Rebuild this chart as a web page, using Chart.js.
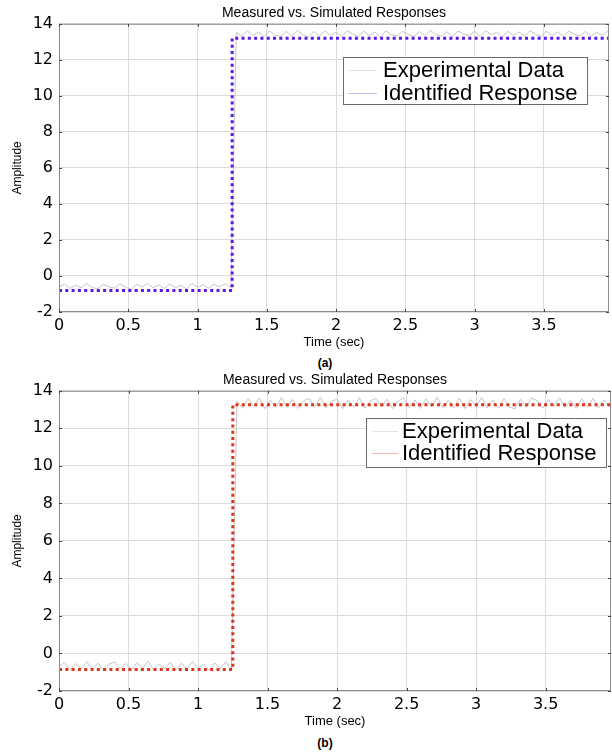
<!DOCTYPE html>
<html>
<head>
<meta charset="utf-8">
<script src="https://cdn.jsdelivr.net/npm/chart.js@4.4.0/dist/chart.umd.min.js"></script>
<style>
  body { margin: 0; background: #fff; width: 612px; height: 753px; position: relative; overflow: hidden; }
  .box { position: absolute; left: 0; width: 612px; }
  .cap { position: absolute; width: 40px; left: 305px; text-align: center; font: bold 12px "Liberation Sans", Arial, sans-serif; color: #000; }
</style>
</head>
<body>
<div class="box" style="top:0;height:350px"><canvas id="chartA"></canvas></div>
<div class="cap" style="top:356px">(a)</div>
<div class="box" style="top:367px;height:362px"><canvas id="chartB"></canvas></div>
<div class="cap" style="top:736px">(b)</div>

<script>
// axes
const xTicks = [0, 0.5, 1, 1.5, 2, 2.5, 3, 3.5];
const yTicks = [-2, 0, 2, 4, 6, 8, 10, 12, 14];

// mesures (temps en s)
const timeExp = [0, 0.04, 0.08, 0.12, 0.16, 0.2, 0.24, 0.28, 0.32, 0.36, 0.4, 0.44, 0.48, 0.52, 0.56, 0.6,
  0.64, 0.68, 0.72, 0.76, 0.8, 0.84, 0.88, 0.92, 0.96, 1, 1.04, 1.08, 1.12, 1.16, 1.2, 1.24,
  1.28, 1.32, 1.36, 1.4, 1.44, 1.48, 1.52, 1.56, 1.6, 1.64, 1.68, 1.72, 1.76, 1.8, 1.84, 1.88, 1.92, 1.96,
  2, 2.04, 2.08, 2.12, 2.16, 2.2, 2.24, 2.28, 2.32, 2.36, 2.4, 2.44, 2.48, 2.52, 2.56, 2.6, 2.64, 2.68,
  2.72, 2.76, 2.8, 2.84, 2.88, 2.92, 2.96, 3, 3.04, 3.08, 3.12, 3.16, 3.2, 3.24, 3.28, 3.32, 3.36, 3.4,
  3.44, 3.48, 3.52, 3.56, 3.6, 3.64, 3.68, 3.72, 3.76, 3.8, 3.84, 3.88, 3.92, 3.96];

const expA = [-0.62, -0.45, -0.70, -0.50, -0.66, -0.42, -0.64, -0.71, -0.47, -0.60,
  -0.68, -0.44, -0.63, -0.74, -0.46, -0.61, -0.40, -0.66, -0.49, -0.70,
  -0.44, -0.65, -0.52, -0.72, -0.41, -0.63, -0.48, -0.69, -0.45, -0.62,
  -0.42, -0.66,
  13.52, 13.30, 13.61, 13.34, 13.56, 13.28, 13.62, 13.36, 13.31, 13.58,
  13.33, 13.63, 13.41, 13.27, 13.57, 13.32, 13.60, 13.35, 13.54, 13.29,
  13.62, 13.43, 13.30, 13.59, 13.34, 13.55, 13.27, 13.61, 13.40, 13.32,
  13.58, 13.42, 13.29, 13.57, 13.35, 13.63, 13.41, 13.31, 13.56, 13.28,
  13.60, 13.44, 13.33, 13.59, 13.30, 13.62, 13.40, 13.53, 13.28, 13.58,
  13.34, 13.55, 13.32, 13.61, 13.41, 13.30, 13.60, 13.35, 13.56, 13.29,
  13.61, 13.42, 13.33, 13.58, 13.31, 13.54, 13.36, 13.59];

const expB = [-0.70, -0.48, -0.88, -0.54, -0.80, -0.44, -0.84, -0.51, -0.90, -0.57,
  -0.45, -0.82, -0.53, -0.89, -0.49, -0.78, -0.42, -0.86, -0.56, -0.81,
  -0.47, -0.88, -0.52, -0.83, -0.43, -0.79, -0.55, -0.90, -0.50, -0.80,
  -0.44, -0.85,
  13.45, 13.08, 13.58, 13.16, 13.62, 13.05, 13.50, 13.12, 13.64, 13.11,
  13.54, 13.06, 13.47, 13.60, 13.14, 13.65, 13.09, 13.43, 13.56, 13.04,
  13.51, 13.13, 13.63, 13.07, 13.48, 13.59, 13.12, 13.55, 13.05, 13.46,
  13.62, 13.10, 13.52, 13.06, 13.57, 13.15, 13.65, 13.08, 13.49, 13.11,
  13.61, 13.05, 13.53, 13.14, 13.64, 13.09, 13.50, 13.07, 13.58, 13.13,
  13.04, 13.55, 13.12, 13.62, 13.47, 13.08, 13.54, 13.16, 13.63, 13.10,
  13.49, 13.06, 13.57, 13.12, 13.60, 13.09, 13.51, 13.14];

// réponse identifiée (échelon)
const timeId = [0, 1.25, 1.25, 3.97];
const idA = [-0.8, -0.8, 13.2, 13.2];
const idB = [-0.85, -0.85, 13.25, 13.25];

// cadre + petits traits de graduation vers l'intérieur
const framePlugin = {
  id: 'frame',
  afterDatasetsDraw(chart) {
    const { ctx, chartArea: a, scales } = chart;
    ctx.save();
    ctx.strokeStyle = '#8c8c8c';
    ctx.lineWidth = 1;
    ctx.strokeRect(a.left + 0.5, a.top + 0.5, a.right - a.left - 1, a.bottom - a.top - 1);
    ctx.strokeStyle = '#444';
    ctx.beginPath();
    xTicks.forEach(v => {
      const px = Math.round(scales.x.getPixelForValue(v)) + 0.5;
      ctx.moveTo(px, a.top); ctx.lineTo(px, a.top + 3);
      ctx.moveTo(px, a.bottom); ctx.lineTo(px, a.bottom - 3);
    });
    yTicks.forEach(v => {
      const py = Math.round(scales.y.getPixelForValue(v)) + 0.5;
      ctx.moveTo(a.left, py); ctx.lineTo(a.left + 3, py);
      ctx.moveTo(a.right, py); ctx.lineTo(a.right - 3, py);
    });
    ctx.stroke();
    ctx.restore();
  }
};

// légende encadrée style matlab
const boxLegend = {
  id: 'boxLegend',
  afterDraw(chart, args, opts) {
    const ctx = chart.ctx;
    ctx.save();
    ctx.fillStyle = '#fff';
    ctx.fillRect(opts.x, opts.y, opts.w, opts.h);
    ctx.strokeStyle = '#6a6a6a';
    ctx.lineWidth = 1;
    ctx.strokeRect(opts.x + 0.5, opts.y + 0.5, opts.w, opts.h);
    ctx.font = '22px "Liberation Sans", Arial, sans-serif';
    ctx.textBaseline = 'middle';
    chart.data.datasets.forEach((ds, i) => {
      const yy = opts.rows[i];
      ctx.strokeStyle = opts.samples[i];
      ctx.beginPath();
      ctx.moveTo(opts.x + opts.lineFrom, yy + 0.5);
      ctx.lineTo(opts.x + opts.lineTo, yy + 0.5);
      ctx.stroke();
      ctx.fillStyle = '#000';
      ctx.fillText(ds.label, opts.x + opts.textX, yy + 1);
    });
    ctx.restore();
  }
};

function makeChart(id, expVals, idVals, idColor, legendOpts, padRight) {
  const tickFont = { family: '"DejaVu Sans", sans-serif', size: 16 };
  return new Chart(document.getElementById(id), {
    type: 'line',
    data: {
      datasets: [
        {
          label: 'Experimental Data',
          data: timeExp.map((t, i) => ({ x: t, y: expVals[i] })),
          borderColor: '#c4c4c4',
          borderWidth: 1,
          pointRadius: 0,
          order: 2
        },
        {
          label: 'Identified Response',
          data: timeId.map((t, i) => ({ x: t, y: idVals[i] })),
          borderColor: idColor,
          borderWidth: 3,
          borderDash: [3, 3.3],
          pointRadius: 0,
          order: 1
        }
      ]
    },
    options: {
      responsive: true,
      maintainAspectRatio: false,
      animation: false,
      layout: { padding: { left: 0, right: padRight, top: 0, bottom: 0 } },
      plugins: {
        legend: { display: false },
        tooltip: { enabled: false },
        title: {
          display: true,
          text: 'Measured vs. Simulated Responses',
          fullSize: false,
          color: '#000',
          font: { family: '"Liberation Sans", Arial, sans-serif', size: 14, weight: 'normal' },
          padding: { top: 5, bottom: 2 }
        },
        boxLegend: legendOpts
      },
      scales: {
        x: {
          type: 'linear',
          min: 0,
          max: 3.97,
          afterBuildTicks: s => { s.ticks = xTicks.map(v => ({ value: v })); },
          afterFit: s => { s.height = 38; },
          ticks: { color: '#000', font: tickFont, padding: 4, maxRotation: 0, autoSkip: false,
            callback: v => String(v) },
          grid: { color: '#dcdcdc', drawTicks: false },
          border: { display: false },
          title: { display: true, text: 'Time (sec)', color: '#000', padding: 0,
            font: { family: '"Liberation Sans", Arial, sans-serif', size: 13 } }
        },
        y: {
          min: -2,
          max: 14,
          afterBuildTicks: s => { s.ticks = yTicks.map(v => ({ value: v })); },
          afterFit: s => { s.width = 59; },
          ticks: { color: '#000', font: tickFont, padding: 6, callback: v => String(v) },
          grid: { color: '#dcdcdc', drawTicks: false },
          border: { display: false },
          title: { display: true, text: 'Amplitude', color: '#000', padding: { top: 10, bottom: 0 },
            font: { family: '"Liberation Sans", Arial, sans-serif', size: 12 } }
        }
      }
    },
    plugins: [framePlugin, boxLegend]
  });
}

makeChart('chartA', expA, idA, '#5b16e8',
  { x: 343, y: 57, w: 244, h: 47, rows: [70, 93], lineFrom: 5, lineTo: 34, textX: 40,
    samples: ['#e4e4e4', '#c9baf2'] }, 3);

makeChart('chartB', expB, idB, '#e0341a',
  { x: 366, y: 51, w: 240, h: 49, rows: [64, 86], lineFrom: 6, lineTo: 32, textX: 36,
    samples: ['#e4e4e4', '#f3b8ae'] }, 1);
</script>
</body>
</html>
